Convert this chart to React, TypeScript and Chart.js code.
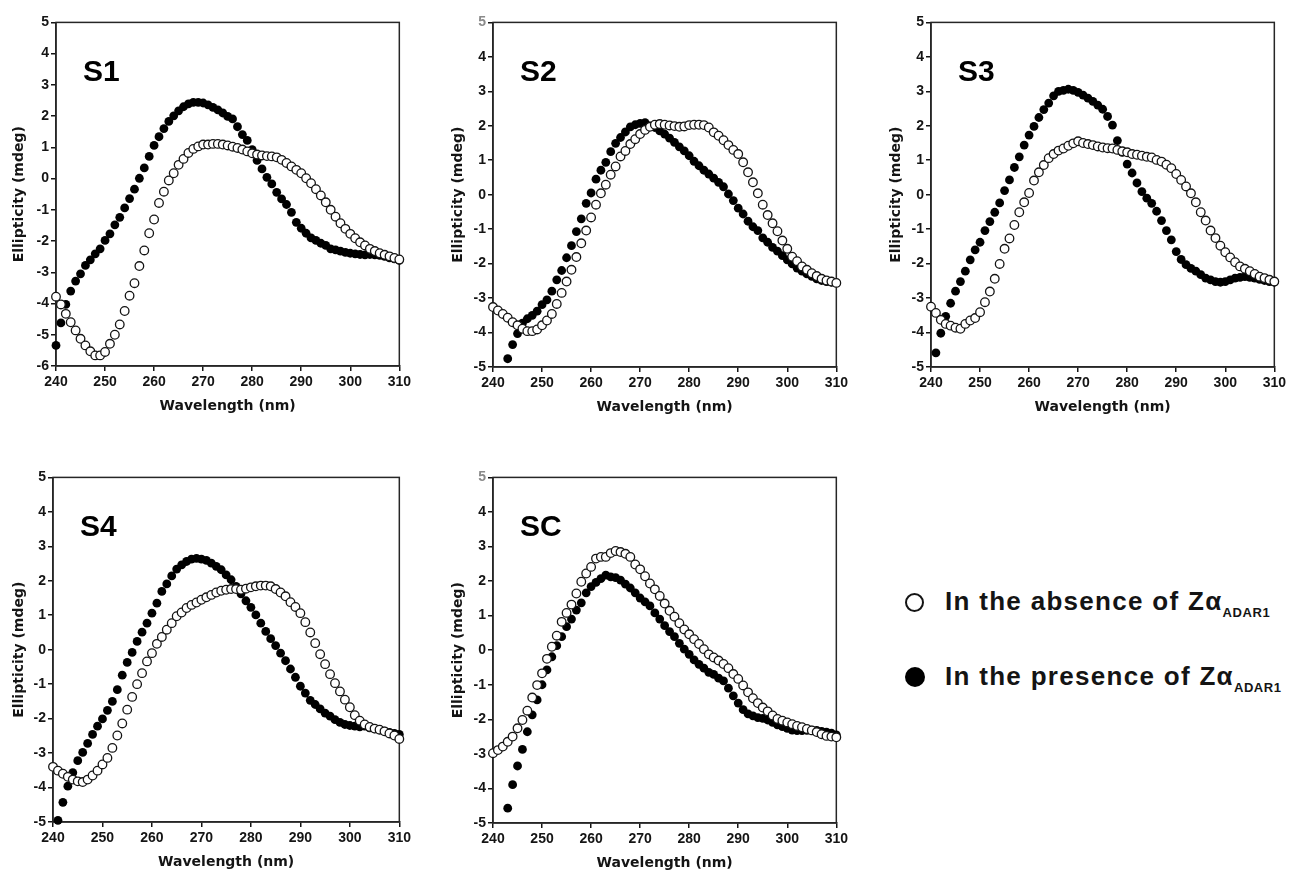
import React, { useEffect, useRef } from "react";
import { Chart, registerables } from "chart.js";

Chart.register(...registerables);

// ---------- DATA ----------
const WAVELENGTH = [
  240, 241, 242, 243, 244, 245, 246, 247, 248, 249,
  250, 251, 252, 253, 254, 255, 256, 257, 258, 259,
  260, 261, 262, 263, 264, 265, 266, 267, 268, 269,
  270, 271, 272, 273, 274, 275, 276, 277, 278, 279,
  280, 281, 282, 283, 284, 285, 286, 287, 288, 289,
  290, 291, 292, 293, 294, 295, 296, 297, 298, 299,
  300, 301, 302, 303, 304, 305, 306, 307, 308, 309, 310,
];

const X_TICKS = [240, 250, 260, 270, 280, 290, 300, 310];

const S1_ABSENCE = [
  -3.78, -4.03, -4.33, -4.6, -4.86, -5.13, -5.34, -5.53, -5.66, -5.66,
  -5.55, -5.29, -5.0, -4.67, -4.24, -3.75, -3.35, -2.8, -2.3, -1.75,
  -1.31, -0.78, -0.42, -0.06, 0.17, 0.44, 0.63, 0.82, 0.95, 1.03,
  1.09, 1.09, 1.11, 1.11, 1.09, 1.06, 1.02, 0.98, 0.93, 0.87,
  0.81, 0.77, 0.74, 0.72, 0.71, 0.68, 0.6, 0.5, 0.39, 0.28,
  0.17, 0.01, -0.15, -0.34, -0.54, -0.76, -1.0, -1.22, -1.43, -1.61,
  -1.77, -1.91, -2.04, -2.14, -2.25, -2.32, -2.39, -2.44, -2.49, -2.54, -2.59,
];
const S1_PRESENCE = [
  -5.34, -4.62, -4.03, -3.6, -3.28, -3.05, -2.78, -2.6, -2.41, -2.25,
  -1.98, -1.77, -1.48, -1.24, -0.94, -0.64, -0.34, 0.01, 0.34, 0.71,
  1.06, 1.34, 1.6, 1.83, 2.01, 2.17, 2.3, 2.39, 2.44, 2.44,
  2.42, 2.36, 2.28, 2.2, 2.1, 1.99, 1.91, 1.66, 1.41, 1.22,
  0.93, 0.58, 0.31, 0.04, -0.17, -0.44, -0.65, -0.83, -1.08, -1.4,
  -1.59, -1.75, -1.9, -1.98, -2.07, -2.14, -2.25, -2.28, -2.32, -2.36,
  -2.39, -2.41, -2.43, -2.44, -2.43, -2.44, -2.46, -2.49, -2.54, -2.57, -2.62,
];

const S2_ABSENCE = [
  -3.26, -3.36, -3.46, -3.57, -3.7, -3.79, -3.89, -3.96, -3.96, -3.91,
  -3.79, -3.65, -3.46, -3.17, -2.85, -2.52, -2.18, -1.81, -1.41, -1.04,
  -0.66, -0.29, 0.04, 0.29, 0.58, 0.82, 1.11, 1.27, 1.47, 1.61,
  1.76, 1.88, 1.97, 2.03, 2.05, 2.03, 2.01, 1.99, 1.97, 1.98,
  2.02, 2.03, 2.03, 2.02, 1.95, 1.81, 1.71, 1.58, 1.44, 1.3,
  1.18, 0.94, 0.65, 0.36, 0.04, -0.29, -0.59, -0.83, -1.06, -1.33,
  -1.57, -1.8, -1.93, -2.08, -2.18, -2.28, -2.36, -2.44, -2.49, -2.52, -2.56,
];
const S2_PRESENCE = [
  null, null, null, -4.76, -4.35, -4.03, -3.73, -3.6, -3.5, -3.38,
  -3.19, -3.05, -2.8, -2.47, -2.2, -1.83, -1.48, -1.07, -0.7, -0.25,
  0.05, 0.45, 0.71, 0.94, 1.25, 1.49, 1.66, 1.82, 1.97, 2.03,
  2.07, 2.09, 2.0, 1.95, 1.85, 1.76, 1.64, 1.52, 1.39, 1.27,
  1.13, 0.97, 0.84, 0.71, 0.6, 0.48, 0.36, 0.23, 0.02, -0.17,
  -0.39, -0.56, -0.77, -0.93, -1.04, -1.25, -1.38, -1.53, -1.64, -1.77,
  -1.89, -2.01, -2.13, -2.22, -2.3, -2.37, -2.44, -2.49, -2.52, -2.54, -2.56,
];

const S3_ABSENCE = [
  -3.25, -3.43, -3.63, -3.75, -3.8, -3.86, -3.89, -3.75, -3.65, -3.58,
  -3.41, -3.12, -2.81, -2.44, -2.01, -1.57, -1.27, -0.88, -0.51, -0.22,
  0.05, 0.41, 0.65, 0.86, 1.06, 1.18, 1.28, 1.34, 1.42, 1.49,
  1.55, 1.5, 1.47, 1.44, 1.4, 1.37, 1.35, 1.34, 1.3, 1.26,
  1.23, 1.18, 1.16, 1.13, 1.1, 1.08, 1.01, 0.96, 0.87, 0.77,
  0.6, 0.43, 0.24, 0.04, -0.22, -0.51, -0.75, -1.04, -1.26, -1.48,
  -1.67, -1.82, -1.96, -2.08, -2.15, -2.22, -2.3, -2.38, -2.42, -2.47, -2.52,
];
const S3_PRESENCE = [
  null, -4.59, -4.02, -3.53, -3.15, -2.8, -2.52, -2.22, -1.89, -1.6,
  -1.38, -1.04, -0.78, -0.51, -0.24, 0.12, 0.43, 0.79, 1.1, 1.44,
  1.73, 1.98, 2.24, 2.47, 2.66, 2.87, 3.0, 3.03, 3.06, 3.03,
  2.97, 2.89, 2.8, 2.71, 2.6, 2.48, 2.27, 2.02, 1.57, 1.23,
  0.89, 0.63, 0.34, 0.09, -0.1, -0.25, -0.48, -0.75, -1.04, -1.31,
  -1.65, -1.88, -2.03, -2.14, -2.22, -2.32, -2.42, -2.47, -2.52, -2.54,
  -2.52, -2.47, -2.42, -2.4, -2.38, -2.4, -2.42, -2.46, -2.49, -2.52, -2.54,
];

const S4_ABSENCE = [
  -3.4, -3.51, -3.6, -3.69, -3.77, -3.82, -3.84, -3.77, -3.65, -3.51,
  -3.33, -3.14, -2.85, -2.49, -2.14, -1.74, -1.37, -1.0, -0.68, -0.34,
  -0.1, 0.17, 0.37, 0.58, 0.77, 0.97, 1.08, 1.21, 1.3, 1.37,
  1.45, 1.52, 1.59, 1.66, 1.71, 1.74, 1.76, 1.76, 1.74, 1.77,
  1.81, 1.84, 1.86, 1.86, 1.84, 1.76, 1.66, 1.55, 1.38, 1.24,
  1.06, 0.8, 0.5, 0.19, -0.13, -0.42, -0.71, -0.97, -1.21, -1.45,
  -1.67, -1.9, -2.06, -2.17, -2.24, -2.29, -2.32, -2.37, -2.43, -2.49, -2.59,
];
const S4_PRESENCE = [
  null, -4.95, -4.43, -3.96, -3.57, -3.22, -2.98, -2.72, -2.46, -2.22,
  -2.01, -1.76, -1.5, -1.16, -0.74, -0.37, -0.08, 0.24, 0.51, 0.77,
  1.06, 1.35, 1.69, 1.91, 2.14, 2.34, 2.46, 2.56, 2.63, 2.65,
  2.63, 2.59, 2.51, 2.42, 2.32, 2.17, 2.03, 1.84, 1.62, 1.42,
  1.23, 1.01, 0.77, 0.53, 0.32, 0.12, -0.1, -0.32, -0.56, -0.8,
  -1.06, -1.26, -1.47, -1.59, -1.72, -1.84, -1.93, -2.03, -2.11, -2.17,
  -2.2, -2.22, -2.24, -2.22, -2.27, -2.3, -2.33, -2.36, -2.4, -2.43, -2.46,
];

const SC_ABSENCE = [
  -2.98, -2.89, -2.79, -2.65, -2.5, -2.26, -2.02, -1.75, -1.37, -1.01,
  -0.67, -0.25, 0.1, 0.42, 0.82, 1.08, 1.32, 1.64, 1.98, 2.22,
  2.41, 2.65, 2.7, 2.7, 2.81, 2.87, 2.84, 2.79, 2.7, 2.48,
  2.34, 2.14, 1.93, 1.76, 1.57, 1.35, 1.14, 0.97, 0.78, 0.6,
  0.46, 0.32, 0.18, 0.03, -0.12, -0.21, -0.3, -0.4, -0.52, -0.69,
  -0.83, -1.02, -1.22, -1.39, -1.53, -1.66, -1.77, -1.89, -1.99, -2.04,
  -2.09, -2.14, -2.19, -2.23, -2.28, -2.32, -2.37, -2.43, -2.48, -2.5, -2.52,
];
const SC_PRESENCE = [
  null, null, null, -4.57, -3.89, -3.35, -2.87, -2.36, -1.87, -1.44,
  -1.0, -0.57, -0.19, 0.13, 0.39, 0.68, 0.9, 1.16, 1.37, 1.66,
  1.84, 1.96, 2.07, 2.17, 2.12, 2.1, 2.03, 1.91, 1.8, 1.66,
  1.51, 1.4, 1.28, 1.08, 0.9, 0.71, 0.54, 0.39, 0.2, 0.03,
  -0.12, -0.28, -0.41, -0.52, -0.64, -0.7, -0.81, -0.89, -1.1, -1.32,
  -1.53, -1.72, -1.84, -1.9, -1.95, -1.97, -2.02, -2.09, -2.16, -2.21,
  -2.26, -2.31, -2.33, -2.33, -2.32, -2.31, -2.32, -2.35, -2.37, -2.4, -2.45,
];

const LEGEND_ABSENCE = "In the absence of Z\u03b1";
const LEGEND_PRESENCE = "In the presence of Z\u03b1";
const LEGEND_SUB = "ADAR1";
const Y_TITLE = "Ellipticity (mdeg)";
const X_TITLE = "Wavelength (nm)";

// ---------- LAYOUT ----------
const PAD_T = 10;
const PAD_R = 12;
const X_H = 49;

const PANELS = [
  { label: "S1", absence: S1_ABSENCE, presence: S1_PRESENCE, yMin: -6, yMax: 5, left: 56, top: 22, w: 346, h: 344, yw: 45, smudge: false },
  { label: "S2", absence: S2_ABSENCE, presence: S2_PRESENCE, yMin: -5, yMax: 5, left: 493, top: 22, w: 346, h: 345, yw: 43, smudge: true },
  { label: "S3", absence: S3_ABSENCE, presence: S3_PRESENCE, yMin: -5, yMax: 5, left: 931, top: 22, w: 346, h: 345, yw: 43, smudge: false },
  { label: "S4", absence: S4_ABSENCE, presence: S4_PRESENCE, yMin: -5, yMax: 5, left: 53, top: 477, w: 349, h: 345, yw: 42, smudge: false },
  { label: "SC", absence: SC_ABSENCE, presence: SC_PRESENCE, yMin: -5, yMax: 5, left: 493, top: 477, w: 346, h: 346, yw: 43, smudge: true },
];

const TICK_FONT = { family: "'Liberation Sans', Arial, sans-serif", size: 14, weight: "bold" as const };
const TITLE_FONT = { family: "'DejaVu Sans', sans-serif", size: 14, weight: "bold" as const };
const INK = "#141414";

const framePlugin = {
  id: "frame",
  beforeDatasetsDraw(chart: any, _args: any, opts: any) {
    const { ctx, chartArea } = chart;
    const { left, top, right, bottom } = chartArea;
    ctx.save();
    ctx.strokeStyle = "#262626";
    ctx.lineWidth = 1.5;
    ctx.strokeRect(left, top, right - left, bottom - top);
    ctx.fillStyle = "#000";
    ctx.font = "bold 30px 'Liberation Sans', Arial, sans-serif";
    ctx.textBaseline = "alphabetic";
    ctx.textAlign = "left";
    ctx.fillText(opts.label, left + 27, top + 59);
    ctx.restore();
  },
};

function Panel({ cfg }: { cfg: (typeof PANELS)[number] }) {
  const ref = useRef<HTMLCanvasElement>(null);
  const W = cfg.yw + cfg.w + PAD_R;
  const H = PAD_T + cfg.h + X_H;

  useEffect(() => {
    const toPts = (arr: (number | null)[]) => WAVELENGTH.map((x, i) => ({ x, y: arr[i] }));
    const chart = new Chart(ref.current as HTMLCanvasElement, {
      type: "scatter",
      data: {
        datasets: [
          {
            label: LEGEND_ABSENCE,
            data: toPts(cfg.absence) as any,
            pointStyle: "circle",
            pointRadius: 4.3,
            pointBorderWidth: 1.3,
            pointBackgroundColor: "#ffffff",
            pointBorderColor: INK,
            showLine: false,
            clip: false as any,
          },
          {
            label: LEGEND_PRESENCE,
            data: toPts(cfg.presence) as any,
            pointStyle: "circle",
            pointRadius: 4.4,
            pointBorderWidth: 0,
            pointBackgroundColor: "#000000",
            pointBorderColor: "#000000",
            showLine: false,
            clip: false as any,
          },
        ],
      },
      options: {
        animation: false,
        responsive: false,
        events: [],
        layout: { padding: { top: PAD_T, right: PAD_R, left: 0, bottom: 0 } },
        plugins: {
          legend: { display: false },
          tooltip: { enabled: false },
          frame: { label: cfg.label },
        } as any,
        scales: {
          x: {
            type: "linear",
            min: 240,
            max: 310,
            afterBuildTicks: (scale: any) => {
              scale.ticks = X_TICKS.map((v) => ({ value: v }));
            },
            afterFit: (scale: any) => {
              scale.height = X_H;
            },
            ticks: { font: TICK_FONT, color: INK, padding: 3, maxRotation: 0, autoSkip: false },
            grid: { drawOnChartArea: false, drawTicks: true, tickLength: 5, color: INK, lineWidth: 1.5 },
            border: { display: true, color: "#262626", width: 1.5 },
            title: { display: true, text: X_TITLE, font: TITLE_FONT, color: INK, padding: { top: 0, bottom: 0 } },
          },
          y: {
            type: "linear",
            min: cfg.yMin,
            max: cfg.yMax,
            ticks: {
              stepSize: 1,
              font: TICK_FONT,
              padding: 2,
              color: (c: any) => (cfg.smudge && c.tick && c.tick.value === 5 ? "#8a8a8a" : INK),
            },
            afterFit: (scale: any) => {
              scale.width = cfg.yw;
            },
            grid: { drawOnChartArea: false, drawTicks: true, tickLength: 5, color: INK, lineWidth: 1.5 },
            border: { display: true, color: "#262626", width: 1.5 },
            title: { display: true, text: Y_TITLE, font: TITLE_FONT, color: INK, padding: { top: 0, bottom: 0 } },
          },
        },
      },
      plugins: [framePlugin as any],
    });
    return () => chart.destroy();
  }, []);

  return (
    <div style={{ position: "absolute", left: cfg.left - cfg.yw, top: cfg.top - PAD_T, width: W, height: H }}>
      <canvas ref={ref} width={W} height={H} style={{ width: W, height: H, display: "block" }} />
    </div>
  );
}

const legendText: React.CSSProperties = {
  position: "absolute",
  left: 945,
  font: "bold 26px 'Liberation Sans', Arial, sans-serif",
  lineHeight: "26px",
  letterSpacing: "1.3px",
  whiteSpace: "nowrap",
  color: INK,
};
const subStyle: React.CSSProperties = { fontSize: 13, lineHeight: "13px", verticalAlign: "-7px", letterSpacing: "0.6px" };

export default function App() {
  return (
    <div style={{ position: "absolute", left: 0, top: 0, width: 1289, height: 872, overflow: "hidden", background: "#fff" }}>
      {PANELS.map((p) => (
        <Panel key={p.label} cfg={p} />
      ))}
      <div
        style={{
          position: "absolute", left: 905, top: 593, width: 19, height: 19, borderRadius: "50%",
          border: "2.5px solid " + INK, boxSizing: "border-box", background: "#fff",
        }}
      />
      <div style={{ ...legendText, top: 588 }}>
        {LEGEND_ABSENCE}
        <span style={subStyle}>{LEGEND_SUB}</span>
      </div>
      <div
        style={{
          position: "absolute", left: 905, top: 667, width: 20, height: 20, borderRadius: "50%", background: "#000",
        }}
      />
      <div style={{ ...legendText, top: 663 }}>
        {LEGEND_PRESENCE}
        <span style={subStyle}>{LEGEND_SUB}</span>
      </div>
    </div>
  );
}
